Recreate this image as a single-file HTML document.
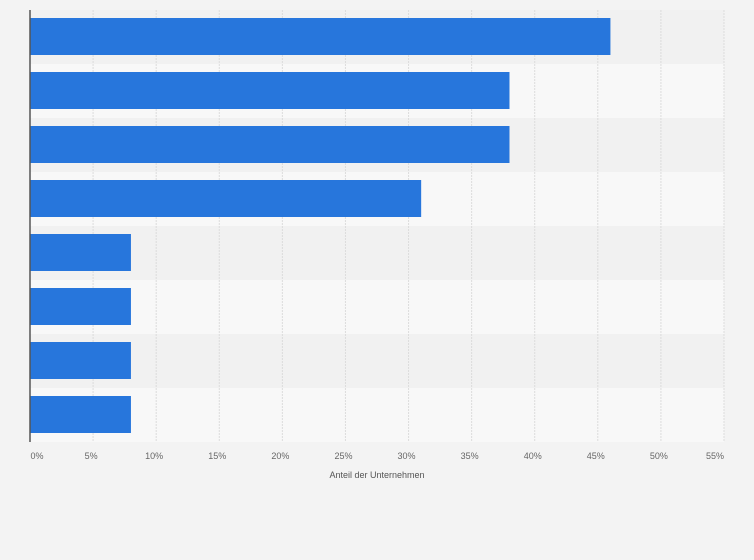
<!DOCTYPE html>
<html><head><meta charset="utf-8"><style>
body{margin:0;background:#f3f3f3;font-family:"Liberation Sans",sans-serif}
svg{display:block}
</style></head><body>
<svg id="chart" width="754" height="560" xmlns="http://www.w3.org/2000/svg">
<rect width="754" height="560" fill="#f3f3f3"/>
<g id="bands"></g><g id="grid"></g><g id="bars"></g><g id="ticks"></g>
<line x1="30" y1="10" x2="30" y2="442" stroke="#555" stroke-width="1.5"/>
<text x="377" y="478" font-size="9" fill="#555" text-anchor="middle">Anteil der Unternehmen</text>
</svg>
<script>
const categories=["A","B","C","D","E","F","G","H"];
const values=[46,38,38,31,8,8,8,8];
const tickValues=[0,5,10,15,20,25,30,35,40,45,50,55];
const tickLabels=["0%","5%","10%","15%","20%","25%","30%","35%","40%","45%","50%","55%"];
const NS="http://www.w3.org/2000/svg";
const x0=30,x1=724,yTop=10,rowH=54;
const xs=v=>x0+(v/55)*(x1-x0);
const ys=i=>yTop+i*rowH;
function mk(t,a,p){const e=document.createElementNS(NS,t);for(const k in a)e.setAttribute(k,a[k]);p.appendChild(e);return e;}
const bands=document.getElementById('bands'),grid=document.getElementById('grid'),bars=document.getElementById('bars'),ticks=document.getElementById('ticks');
categories.forEach((c,i)=>{
 const b=mk('rect',{x:x0,y:ys(i),width:x1-x0,height:rowH,fill:i%2?'#f8f8f8':'#f1f1f1'},bands);
 
 
});
tickValues.forEach((v,i)=>{
 if(v>0){const l=mk('line',{x1:xs(v),x2:xs(v),y1:yTop,y2:yTop+rowH*categories.length,stroke:'#dcdcdc','stroke-dasharray':'2,1'},grid);
 
 }
 const t=mk('text',{x:v===0?x0+7:xs(v)-(v===55?9:2),y:459,'font-size':9,fill:'#666','text-anchor':'middle'},ticks);
 t.textContent=tickLabels[i];
 
 
});
values.forEach((v,i)=>{
 const r=mk('rect',{x:x0,y:ys(i)+8,width:xs(v)-x0,height:37,fill:'#2776dc'},bars);
 
 
});
</script>
</body></html>
